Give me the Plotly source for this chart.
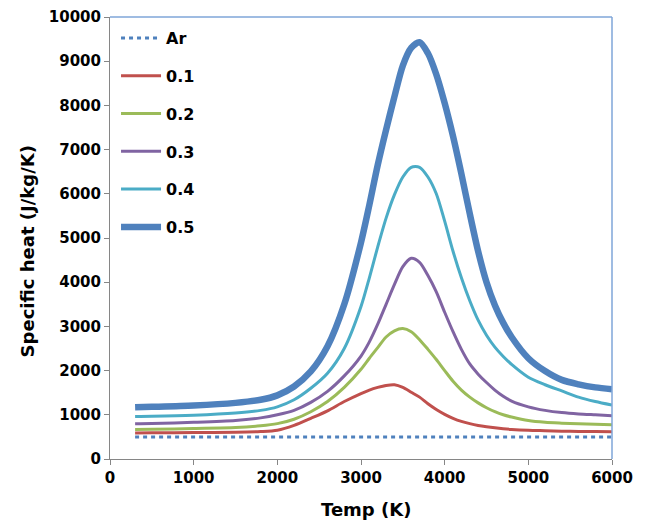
import plotly.graph_objects as go

temp = [300, 500, 1000, 1500, 1800, 2000, 2200, 2400, 2600, 2800, 3000, 3100, 3200, 3300,
        3400, 3500, 3600, 3700, 3800, 3900, 4000, 4100, 4200, 4300, 4400, 4500, 4600, 4700,
        4800, 5000, 5200, 5400, 5600, 5800, 6000]

ar_temp = [300, 1000, 2000, 3000, 4000, 5000, 6000]
ar = [500, 500, 500, 500, 500, 500, 500]

cp_01 = [590, 592, 600, 605, 620, 650, 760, 920, 1090, 1300, 1480, 1560, 1620, 1665,
         1680, 1620, 1510, 1400, 1250, 1120, 1010, 920, 850, 800, 760, 730, 705, 685,
         670, 650, 640, 630, 625, 620, 618]
cp_02 = [670, 672, 690, 710, 750, 800, 900, 1070, 1300, 1620, 2030, 2280, 2520, 2760,
         2900, 2950, 2880, 2700, 2480, 2250, 2000, 1760, 1560, 1400, 1270, 1160, 1070, 1000,
         950, 870, 830, 810, 795, 785, 775]
cp_03 = [800, 805, 830, 870, 930, 1000, 1100, 1280, 1530, 1880, 2330, 2650, 3050, 3500,
         3950, 4350, 4540, 4450, 4150, 3780, 3320, 2880, 2480, 2150, 1920, 1730, 1560, 1420,
         1310, 1180, 1100, 1050, 1020, 1000, 980]
cp_04 = [960, 965, 990, 1040, 1100, 1180, 1340, 1600, 1940, 2500, 3450, 4100, 4800, 5450,
         5980, 6380, 6600, 6600, 6380, 6000, 5380, 4700, 4100, 3580, 3140, 2800, 2530, 2320,
         2140, 1850, 1680, 1540, 1400, 1300, 1220]
cp_05 = [1170, 1180, 1210, 1270, 1340, 1440, 1640, 1980, 2550, 3500, 4900, 5750, 6650, 7450,
         8200, 8900, 9300, 9430, 9180, 8700, 8050, 7300, 6450, 5550, 4700, 4000, 3480, 3080,
         2760, 2280, 1990, 1790, 1690, 1620, 1580]

y_ticks = [0, 1000, 2000, 3000, 4000, 5000, 6000, 7000, 8000, 9000, 10000]
y_ticktext = ["0", "1000", "2000", "3000", "4000", "5000", "6000", "7000", "8000", "9000", "10000"]
x_ticks = [0, 1000, 2000, 3000, 4000, 5000, 6000]

names = ["0.1", "0.2", "0.3", "0.4", "0.5"]
series = [cp_01, cp_02, cp_03, cp_04, cp_05]
colors = ["#C0504D", "#9BBB59", "#8064A2", "#4BACC6", "#4F81BD"]
widths = [3, 3, 3, 3, 6.5]

FONT = "DejaVu Sans"

fig = go.Figure()
fig.add_trace(go.Scatter(x=ar_temp, y=ar, mode="lines", name="Ar", legendgroup="ar",
                         line=dict(color="#4F81BD", width=3, dash="4px,4px")))
for n, s, c, w in zip(names, series, colors, widths):
    fig.add_trace(go.Scatter(x=temp, y=s, mode="lines", name=n, legendgroup=n,
                             line=dict(color=c, width=w, shape="spline", smoothing=0.8)))

fig.update_layout(
    width=649, height=525,
    margin=dict(l=110, r=37, t=17, b=66),
    paper_bgcolor="white", plot_bgcolor="white",
    font=dict(family=FONT, size=15, color="black"),
    showlegend=True,
    legend=dict(x=0.012, y=0.991, xanchor="left", yanchor="top",
                bgcolor="rgba(0,0,0,0)", traceorder="grouped", tracegroupgap=14,
                font=dict(family=FONT, size=16, color="black", weight="bold"),
                itemwidth=40),
    xaxis=dict(range=[0, 6000], tickvals=x_ticks, automargin=False,
               showgrid=False, zeroline=False, showline=True, linecolor="#868686", linewidth=1,
               ticks="outside", ticklen=5, tickcolor="#868686",
               tickfont=dict(family=FONT, size=15, color="black", weight="bold")),
    yaxis=dict(range=[0, 10000], tickvals=y_ticks, ticktext=y_ticktext, automargin=False,
               showgrid=False, zeroline=False, showline=True, linecolor="#868686", linewidth=1,
               ticks="outside", ticklen=5, tickcolor="#868686",
               tickfont=dict(family=FONT, size=15, color="black", weight="bold")),
    shapes=[
        dict(type="line", xref="paper", yref="paper", x0=0, x1=1, y0=1, y1=1,
             line=dict(color="#7FA6D8", width=1.5)),
        dict(type="line", xref="paper", yref="paper", x0=1, x1=1, y0=0, y1=1,
             line=dict(color="#7FA6D8", width=1.5)),
    ],
    annotations=[
        dict(text="Specific heat (J/kg/K)", textangle=-90, xref="paper", yref="paper",
             x=-0.165, y=0.47, xanchor="center", yanchor="middle", showarrow=False,
             font=dict(family=FONT, size=18, color="black", weight="bold")),
        dict(text="Temp (K)", xref="paper", yref="paper",
             x=0.51, y=-0.115, xanchor="center", yanchor="middle", showarrow=False,
             font=dict(family=FONT, size=18, color="black", weight="bold")),
    ],
)

fig.write_html("out.html")
